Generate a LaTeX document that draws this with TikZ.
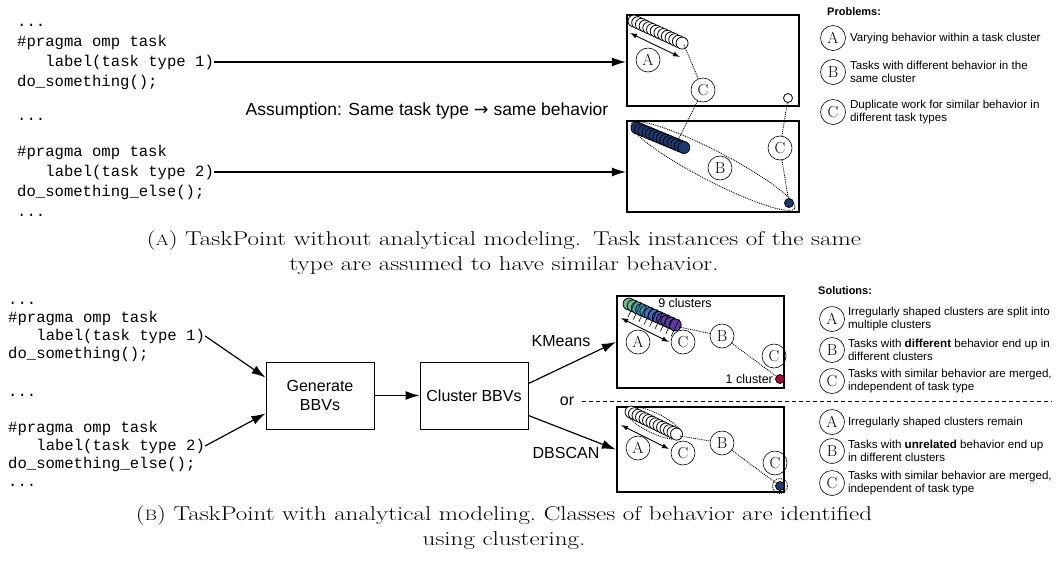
\documentclass[tikz,border=0pt]{standalone}
\usepackage{fontspec}
\newfontfamily\codefont{Liberation Mono}
\newfontfamily\labelfont{Liberation Sans}
\newfontfamily\symfont{DejaVu Sans}
\newfontfamily\capfont{Latin Modern Roman}[FakeStretch=1.25]
\usetikzlibrary{arrows.meta,positioning}

\definecolor{clusterblue}{RGB}{28,58,112}
\definecolor{clusterred}{RGB}{165,10,60}
\definecolor{kgreen}{RGB}{95,190,140}
\definecolor{kteal}{RGB}{45,150,185}
\definecolor{kblue}{RGB}{60,110,190}
\definecolor{kpurple}{RGB}{90,60,160}

\tikzset{
  code/.style={font=\codefont\fontsize{15.6}{18}\selectfont, anchor=base west, inner sep=0pt},
  txt/.style={font=\labelfont\fontsize{16}{19}\selectfont, inner sep=0pt},
  small/.style={font=\labelfont\fontsize{12.5}{14}\selectfont, inner sep=0pt},
  note/.style={font=\labelfont\fontsize{11.6}{13.5}\selectfont, anchor=west, align=left, inner sep=0pt},
  tag/.style={circle, draw, line width=0.6pt, inner sep=0pt, minimum size=24pt, font=\fontsize{16}{16}\selectfont},
  dot/.style={circle, draw, line width=0.8pt, inner sep=0pt, minimum size=9pt},
  plotbox/.style={draw, line width=2.2pt},
  stepbox/.style={draw, line width=1pt, minimum width=108pt, minimum height=67pt, align=center,
    font=\labelfont\fontsize{16}{19}\selectfont},
  link/.style={densely dotted, line width=0.9pt},
  flow/.style={-{Latex[length=14pt,width=9pt]}, line width=1.2pt},
  span/.style={{Latex[length=7pt,width=5pt]}-{Latex[length=7pt,width=5pt]}, line width=0.9pt},
  caption/.style={font=\capfont\fontsize{20}{25}\selectfont, align=center, inner sep=0pt}
}

\begin{document}
\begin{tikzpicture}[x=1pt, y=-1pt]
  \useasboundingbox (0,0) rectangle (1056,566);

  % (a) code with task types
  \node[code] (c1) at (17,26) {...};
  \node[code] (c2) at (17,46) {\#pragma omp task};
  \node[code] (t1) at (45.2,66) {label(task type 1)};
  \node[code] (c3) at (17,86) {do\_something();};
  \node[code] (c4) at (17,120) {...};
  \node[code] (c5) at (17,156) {\#pragma omp task};
  \node[code] (t2) at (45.2,176) {label(task type 2)};
  \node[code] (c6) at (17,196) {do\_something\_else();};
  \node[code] (c7) at (17,216) {...};

  \node[txt, font=\labelfont\fontsize{17.5}{20}\selectfont] (assume) at (427,111) {Assumption: Same task type {\symfont →} same behavior};

  % (a) task type 1 plot
  \node[plotbox, minimum width=172pt, minimum height=91pt] (pA) at (713,60.5) {};
  \draw[flow] (t1.east) -- (t1.east -| pA.west);
  \foreach \i in {0,...,13}
    \draw[line width=0.8pt, fill=white] ({634+3.7*\i},{21+1.7*\i}) circle[radius=6pt];
  \coordinate (pAend) at (684,45);
  \coordinate (pAs1) at (630,33);
  \coordinate (pAs2) at (680,57);
  \draw[span] (pAs1) -- (pAs2);
  \node[tag] (pA-a) at (648,60) {A};
  \node[tag] (pA-c) at (703,90) {C};
  \node[dot, fill=white] (wdot) at (788,98) {};

  % (a) task type 2 plot
  \node[plotbox, minimum width=172pt, minimum height=91pt] (pB) at (713,166.5) {};
  \draw[flow] (t2.east) -- (t2.east -| pB.west);
  \draw[link, rotate around={-27.4:(713,166)}] (713,166) ellipse[x radius=92pt, y radius=15pt];
  \foreach \i in {0,...,13}
    \draw[line width=0.8pt, fill=clusterblue] ({637+3.6*\i},{128+1.5*\i}) circle[radius=6pt];
  \coordinate (pBclu) at (678,140);
  \node[tag] (pB-b) at (720,168) {B};
  \node[tag] (pB-c) at (780,148) {C};
  \node[dot, fill=clusterblue] (bdot) at (789,203) {};
  \draw[link] (pAend) -- (pA-c);
  \draw[link] (pA-c) -- (pBclu);
  \draw[link] (wdot) -- (pB-c);
  \draw[link] (pB-c) -- (bdot);

  % problems legend
  \node[note, font=\labelfont\bfseries\fontsize{11}{13}\selectfont] (prob) at (827,12) {Problems:};
  \node[tag, minimum size=25pt] (lA) at (833,38) {A};
  \node[note, right=4pt of lA] {Varying behavior within a task cluster};
  \node[tag, minimum size=25pt] (lB) at (833,72) {B};
  \node[note, right=4pt of lB] {Tasks with different behavior in the\\same cluster};
  \node[tag, minimum size=25pt] (lC) at (833,112) {C};
  \node[note, right=4pt of lC] {Duplicate work for similar behavior in\\different task types};

  \node[caption] (capA) at (504,253) {({\fontsize{15}{15}\selectfont A}) TaskPoint without analytical modeling.\hspace{0.6em}Task instances of the same\\type are assumed to have similar behavior.};

  % (b) code with task types
  \node[code] (d1) at (8,304) {...};
  \node[code] (d2) at (8,322) {\#pragma omp task};
  \node[code] (u1) at (36.2,340) {label(task type 1)};
  \node[code] (d3) at (8,358) {do\_something();};
  \node[code] (d4) at (8,396) {...};
  \node[code] (d5) at (8,432) {\#pragma omp task};
  \node[code] (u2) at (36.2,450) {label(task type 2)};
  \node[code] (d6) at (8,468) {do\_something\_else();};
  \node[code] (d7) at (8,486) {...};

  \node[stepbox] (gen) at (320,395.5) {Generate\\BBVs};
  \node[stepbox, right=45pt of gen] (clu) {Cluster BBVs};
  \draw[flow] (u1.east) -- ([yshift=18pt]gen.west);
  \draw[flow] (u2.east) -- ([yshift=-18pt]gen.west);
  \draw[flow] (gen) -- (clu);

  % KMeans plot
  \node[plotbox, minimum width=167pt, minimum height=92pt] (pK) at (700.5,342) {};
  \draw[flow] ([yshift=12pt]clu.east) -- (pK.west);
  \node[txt] (km) at (561,341) {KMeans};
  \foreach \i/\c in {0/kgreen,1/kgreen,2/kgreen!50!kteal,3/kteal,4/kteal,5/kblue,6/kblue,
      7/kblue!50!kpurple,8/kpurple,9/kpurple,10/kpurple,11/kpurple}
    \draw[line width=0.8pt, fill=\c] ({629+4.2*\i},{304+1.9*\i}) circle[radius=6pt];
  \foreach \i in {0,...,8}
    \draw[line width=0.6pt] ({636+5.4*\i},{300+2.4*\i}) -- ++(-8,17);
  \node[small] (nine) at (685,303) {9 clusters};
  \coordinate (pKend) at (679,327);
  \coordinate (pKs1) at (621,318);
  \coordinate (pKs2) at (669,342);
  \draw[span] (pKs1) -- (pKs2);
  \node[tag] (pK-a) at (638,342) {A};
  \node[tag] (pK-c) at (683,342) {C};
  \node[tag] (pK-b) at (722,336) {B};
  \node[tag] (pK-c2) at (774,356) {C};
  \node[dot, fill=clusterred] (rdot) at (780,379) {};
  \node[small, left=2pt of rdot] (one) {1 cluster};
  \draw[link] (pKend) -- (pK-b);
  \draw[link] (pK-b) -- (rdot);

  % separator
  \node[txt] (or) at (567,401) {or};
  \coordinate (sepend) at (1052,401);
  \draw[dash pattern=on 4pt off 3pt, line width=1pt] ([xshift=8pt]or.east) -- (or.east -| sepend);

  % DBSCAN plot
  \node[plotbox, minimum width=167pt, minimum height=85pt] (pD) at (700.5,449.5) {};
  \draw[flow] ([yshift=-20pt]clu.east) -- (pD.west);
  \node[txt] (db) at (566,453) {DBSCAN};
  \draw[link, rotate around={-26:(654,423)}] (654,423) ellipse[x radius=31pt, y radius=10pt];
  \foreach \i in {0,...,13}
    \draw[line width=0.8pt, fill=white] ({631+3.5*\i},{412+1.7*\i}) circle[radius=6pt];
  \coordinate (pDend) at (680,436);
  \coordinate (pDs1) at (621,425);
  \coordinate (pDs2) at (669,449);
  \draw[span] (pDs1) -- (pDs2);
  \node[tag] (pD-a) at (638,448) {A};
  \node[tag] (pD-c) at (683,453) {C};
  \node[tag] (pD-b) at (722,443) {B};
  \node[tag] (pD-c2) at (775,463) {C};
  \node[dot, fill=clusterblue] (bdot2) at (780,486) {};
  \draw[link] (bdot2) circle[radius=7.5pt];
  \draw[link] (pDend) -- (pD-b);
  \draw[link] (pD-b) -- (bdot2);

  % solutions legend
  \node[note, font=\labelfont\bfseries\fontsize{11}{13}\selectfont] (sol) at (818,291) {Solutions:};
  \node[tag, minimum size=25pt] (sA) at (832,319) {A};
  \node[note, right=3pt of sA] {Irregularly shaped clusters are split into\\multiple clusters};
  \node[tag, minimum size=25pt] (sB) at (832,350) {B};
  \node[note, right=3pt of sB] {Tasks with \textbf{different} behavior end up in\\different clusters};
  \node[tag, minimum size=25pt] (sC) at (832,381) {C};
  \node[note, right=3pt of sC] {Tasks with similar behavior are merged,\\independent of task type};
  \node[tag, minimum size=25pt] (sA2) at (832,422) {A};
  \node[note, right=3pt of sA2] {Irregularly shaped clusters remain};
  \node[tag, minimum size=25pt] (sB2) at (832,451) {B};
  \node[note, right=3pt of sB2] {Tasks with \textbf{unrelated} behavior end up\\in different clusters};
  \node[tag, minimum size=25pt] (sC2) at (832,483) {C};
  \node[note, right=3pt of sC2] {Tasks with similar behavior are merged,\\independent of task type};

  \node[caption] (capB) at (504,528) {({\fontsize{15}{15}\selectfont B}) TaskPoint with analytical modeling.\ Classes of behavior are identified\\using clustering.};
\end{tikzpicture}
\end{document}
